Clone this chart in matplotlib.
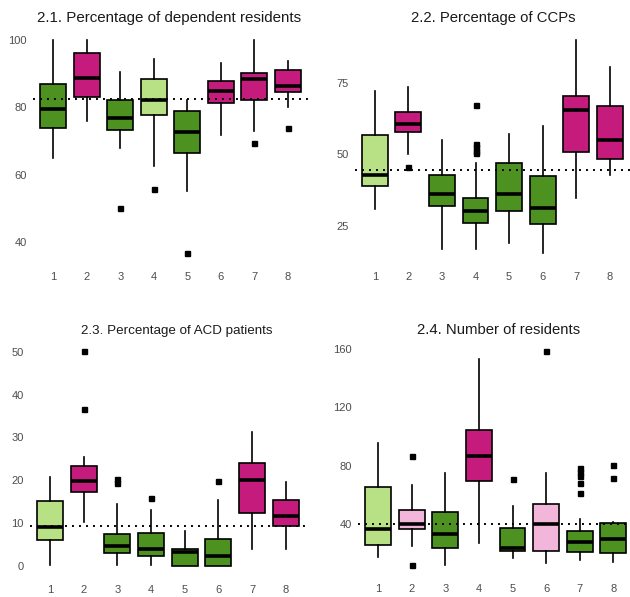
import matplotlib
matplotlib.use('Agg')
import matplotlib.pyplot as plt

plt.rcParams['font.family'] = ['Liberation Sans', 'DejaVu Sans']

groups = [1, 2, 3, 4, 5, 6, 7, 8]
tick_labels = ['1', '2', '3', '4', '5', '6', '7', '8']

# colour keys
DG, LG, MG, LP = '#4d9221', '#b8e186', '#c51b7d', '#f1b6da'

# ---- 2.1 Percentage of dependent residents
p1_title = '2.1. Percentage of dependent residents'
p1_whislo = [65.0, 76.0, 67.9, 62.7, 55.2, 71.9, 73.0, 80.2]
p1_q1 = [73.9, 83.0, 73.2, 77.7, 66.3, 81.2, 82.1, 84.5]
p1_med = [79.4, 88.7, 76.9, 82.1, 72.7, 84.9, 88.4, 86.3]
p1_q3 = [86.8, 96.2, 82.1, 88.4, 78.9, 87.8, 90.2, 91.1]
p1_whishi = [100.0, 100.0, 90.4, 94.3, 82.1, 93.0, 100.0, 93.6]
p1_fliers = [[], [], [50.1], [55.8], [36.7], [], [69.4], [73.9]]
p1_ref = 82.4
p1_yticks = [40, 60, 80, 100]
p1_colors = [DG, MG, DG, LG, DG, MG, MG, MG]

# ---- 2.2 Percentage of CCPs
p2_title = '2.2. Percentage of CCPs'
p2_whislo = [30.7, 50.2, 16.8, 16.7, 18.8, 15.3, 34.7, 42.9]
p2_q1 = [38.9, 57.8, 31.9, 26.1, 30.3, 25.5, 50.8, 48.3]
p2_med = [42.8, 60.5, 36.2, 30.3, 36.1, 31.1, 65.7, 55.2]
p2_q3 = [56.8, 64.8, 42.8, 34.8, 46.9, 42.3, 70.3, 66.8]
p2_whishi = [72.2, 73.6, 55.1, 47.0, 57.2, 60.0, 90.2, 80.6]
p2_fliers = [[], [45.5], [], [67.2, 53.7, 52.5, 51.3, 50.6], [], [], [], []]
p2_ref = 44.6
p2_yticks = [25, 50, 75]
p2_colors = [LG, MG, DG, DG, DG, DG, MG, MG]

# ---- 2.3 Percentage of ACD patients
p3_title = '2.3. Percentage of ACD patients'
p3_whislo = [0.2, 10.3, 0.2, 0.2, 0.0, 0.0, 4.1, 4.1]
p3_q1 = [6.1, 17.4, 3.0, 2.4, 0.1, 0.0, 12.4, 9.4]
p3_med = [9.2, 19.8, 4.7, 4.1, 3.2, 2.4, 20.2, 11.8]
p3_q3 = [15.3, 23.3, 7.6, 7.8, 4.1, 6.4, 24.0, 15.5]
p3_whishi = [20.8, 25.5, 14.5, 13.1, 8.2, 15.4, 31.3, 19.6]
p3_fliers = [[], [50.2, 36.6], [20.3, 19.3], [16.0], [], [19.9], [], []]
p3_ref = 9.4
p3_yticks = [0, 10, 20, 30, 40, 50]
p3_colors = [LG, MG, DG, DG, DG, DG, MG, MG]

# ---- 2.4 Number of residents
p4_title = '2.4. Number of residents'
p4_whislo = [17.6, 24.9, 11.9, 26.7, 16.9, 13.0, 15.1, 13.9]
p4_q1 = [25.6, 36.6, 23.8, 69.5, 21.5, 21.7, 20.6, 19.9]
p4_med = [36.6, 40.0, 32.9, 86.6, 23.8, 39.8, 27.4, 29.9]
p4_q3 = [65.6, 49.6, 48.5, 104.2, 37.5, 53.5, 35.2, 40.5]
p4_whishi = [95.3, 66.7, 74.7, 152.9, 52.3, 74.7, 43.2, 41.6]
p4_fliers = [[], [86.6, 11.7], [], [], [70.6], [158.6],
             [78.2, 75.9, 73.1, 67.9, 61.0], [80.5, 71.3]]
p4_ref = 39.8
p4_yticks = [40, 80, 120, 160]
p4_colors = [LG, LP, DG, MG, DG, LP, DG, DG]

W, H = 630, 597
fig = plt.figure(figsize=(W / 100, H / 100), dpi=100)


def px_axes(left, right, top, bottom):
    return fig.add_axes([left / W, 1 - bottom / H, (right - left) / W, (bottom - top) / H])


panels = [
    dict(box=(33, 308, 29, 264), title=p1_title, tx=169, ty=21.7, fs=10.9,
         lo=p1_whislo, q1=p1_q1, med=p1_med, q3=p1_q3, hi=p1_whishi, fl=p1_fliers,
         ref=p1_ref, yt=p1_yticks, col=p1_colors),
    dict(box=(354.6, 630, 29, 264), title=p2_title, tx=493.5, ty=21.7, fs=10.7,
         lo=p2_whislo, q1=p2_q1, med=p2_med, q3=p2_q3, hi=p2_whishi, fl=p2_fliers,
         ref=p2_ref, yt=p2_yticks, col=p2_colors),
    dict(box=(29.8, 306, 340, 577), title=p3_title, tx=176.7, ty=334, fs=9.6,
         lo=p3_whislo, q1=p3_q1, med=p3_med, q3=p3_q3, hi=p3_whishi, fl=p3_fliers,
         ref=p3_ref, yt=p3_yticks, col=p3_colors),
    dict(box=(358, 633.5, 340, 576), title=p4_title, tx=498.5, ty=333.7, fs=10.7,
         lo=p4_whislo, q1=p4_q1, med=p4_med, q3=p4_q3, hi=p4_whishi, fl=p4_fliers,
         ref=p4_ref, yt=p4_yticks, col=p4_colors),
]

for p in panels:
    ax = px_axes(*p['box'])
    stats = []
    for i in range(len(groups)):
        stats.append(dict(whislo=p['lo'][i], q1=p['q1'][i], med=p['med'][i],
                          q3=p['q3'][i], whishi=p['hi'][i], fliers=p['fl'][i]))
    bp = ax.bxp(stats, positions=groups, widths=0.77, patch_artist=True,
                showcaps=False,
                boxprops=dict(edgecolor='black', linewidth=1.2),
                whiskerprops=dict(color='black', linewidth=1.2),
                medianprops=dict(color='black', linewidth=2.6, solid_capstyle='butt'),
                flierprops=dict(marker='s', markersize=3.6, markerfacecolor='black',
                                markeredgecolor='black', linestyle='none'))
    for patch, c in zip(bp['boxes'], p['col']):
        patch.set_facecolor(c)
    allv = list(p['lo']) + list(p['hi']) + [v for f in p['fl'] for v in f]
    vmin, vmax = min(allv), max(allv)
    ext = (vmax - vmin) * 0.05
    ax.set_ylim(vmin - ext, vmax + ext)
    ax.set_xlim(0.4, 8.6)
    ax.axhline(p['ref'], color='black', linewidth=1.4, linestyle=(0, (1, 2.6)), zorder=5)
    ax.set_yticks(p['yt'])
    ax.set_xticks(groups)
    ax.set_xticklabels(tick_labels)
    ax.tick_params(axis='both', length=0, labelsize=8, labelcolor='#4d4d4d')
    ax.tick_params(axis='x', pad=5.5)
    ax.tick_params(axis='y', pad=4.3)
    for s in ax.spines.values():
        s.set_visible(False)
    ax.set_facecolor('none')
    fig.text(p['tx'] / W, 1 - p['ty'] / H, p['title'], ha='center', va='baseline',
             fontsize=p['fs'], color='#1a1a1a')

fig.savefig('out.png', dpi=100)
